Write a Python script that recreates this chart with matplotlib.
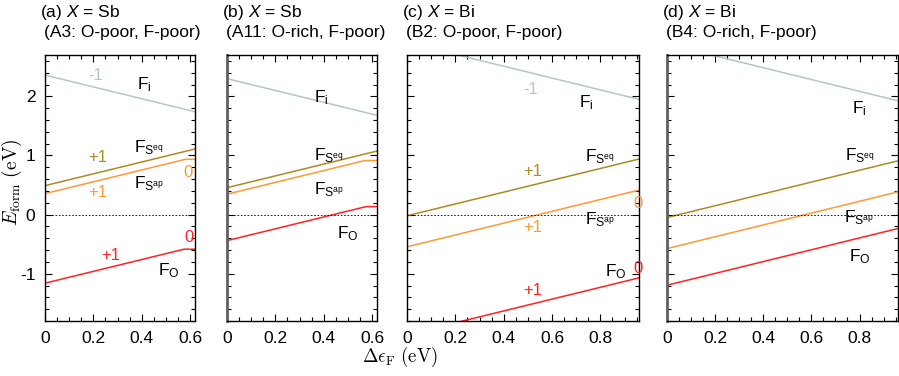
import matplotlib
matplotlib.use("Agg")
import matplotlib.pyplot as plt
from matplotlib.ticker import MultipleLocator, FuncFormatter

plt.rcParams["font.family"] = ["Liberation Sans", "DejaVu Sans"]
plt.rcParams["mathtext.fontset"] = "custom"
plt.rcParams["mathtext.rm"] = "Liberation Sans"
plt.rcParams["mathtext.it"] = "Liberation Sans:italic"
plt.rcParams["axes.unicode_minus"] = False

# ---- data (formation energy vs Fermi level, eV) ----
PANEL_TITLES = [r"(a) $X$ = Sb", r"(b) $X$ = Sb", r"(c) $X$ = Bi", r"(d) $X$ = Bi"]
PANEL_SUBTITLES = ["(A3: O-poor, F-poor)", "(A11: O-rich, F-poor)",
                   "(B2: O-poor, F-poor)", "(B4: O-rich, F-poor)"]
X_MAX = [0.62, 0.62, 0.96, 0.96]

fi_x  = [[0, 0.62], [0, 0.62], [0, 0.96], [0, 0.96]]
fi_y  = [[2.36, 1.74], [2.30, 1.68], [2.91, 1.95], [2.885, 1.925]]
seq_x = [[0, 0.62], [0, 0.62], [0, 0.96], [0, 0.96]]
seq_y = [[0.49, 1.11], [0.455, 1.075], [-0.02, 0.94], [-0.05, 0.91]]
sap_x = [[0, 0.58, 0.62], [0, 0.57, 0.62], [0, 0.96], [0, 0.96]]
sap_y = [[0.355, 0.935, 0.935], [0.345, 0.915, 0.915], [-0.545, 0.415], [-0.575, 0.385]]
fo_x  = [[0, 0.575, 0.62], [0, 0.575, 0.62], [0, 0.96], [0, 0.96]]
fo_y  = [[-1.16, -0.585, -0.585], [-0.44, 0.135, 0.135], [-2.03, -1.07], [-1.195, -0.235]]

GRAY, OLIVE, ORANGE, RED = "#b3c6ca", "#ad8a22", "#ff9a33", "#ff2222"

SEQ = r"F$_{\mathregular{S}^{\mathregular{eq}}}$"
SAP = r"F$_{\mathregular{S}^{\mathregular{ap}}}$"
FI = r"F$_{\mathregular{i}}$"
FO = r"F$_{\mathregular{O}}$"

# text labels: (text, x, y, colour)
LABELS = [
    [("-1", 0.21, 2.36, GRAY), (FI, 0.41, 2.20, "black"),
     (SEQ, 0.43, 1.13, "black"), ("+1", 0.22, 0.96, OLIVE),
     ("0", 0.59, 0.72, ORANGE), (SAP, 0.43, 0.52, "black"),
     ("+1", 0.22, 0.38, ORANGE), ("0", 0.595, -0.39, RED),
     ("+1", 0.27, -0.70, RED), (FO, 0.51, -0.94, "black")],
    [(FI, 0.39, 1.98, "black"), (SEQ, 0.42, 1.00, "black"),
     (SAP, 0.42, 0.42, "black"), (FO, 0.50, -0.33, "black")],
    [("-1", 0.51, 2.12, GRAY), (FI, 0.74, 1.90, "black"),
     ("+1", 0.52, 0.73, OLIVE), (SEQ, 0.80, 0.98, "black"),
     (SAP, 0.80, -0.08, "black"), ("+1", 0.52, -0.21, ORANGE),
     ("0", 0.955, 0.19, ORANGE), ("+1", 0.52, -1.29, RED),
     (FO, 0.865, -0.97, "black"), ("0", 0.955, -0.92, RED)],
    [(FI, 0.80, 1.80, "black"), (SEQ, 0.80, 1.00, "black"),
     (SAP, 0.80, -0.06, "black"), (FO, 0.80, -0.71, "black")],
]

W, H = 899, 376
fig = plt.figure(figsize=(W / 100, H / 100), dpi=100)

lefts = [45, 227, 407, 667]
widths = [150, 150, 232, 231]
top_px, bot_px = 55, 321

fmt = FuncFormatter(lambda v, p: f"{v:g}")

for i in range(4):
    ax = fig.add_axes([lefts[i] / W, 1 - bot_px / H, widths[i] / W, (bot_px - top_px) / H])
    ax.plot(fi_x[i], fi_y[i], color=GRAY, lw=1.1)
    ax.plot(seq_x[i], seq_y[i], color=OLIVE, lw=1.1)
    ax.plot(sap_x[i], sap_y[i], color=ORANGE, lw=1.1)
    ax.plot(fo_x[i], fo_y[i], color=RED, lw=1.1)
    ax.axhline(0, color="black", lw=0.6, ls=(0, (2, 2)))

    for txt, tx, ty, c in LABELS[i]:
        size = 12.5 if txt.startswith("F") else 12
        ax.text(tx, ty, txt, color=c, fontsize=size, ha="center", va="center")

    ax.set_xlim(0, X_MAX[i])
    ax.set_ylim(-1.8, 2.7)
    ax.xaxis.set_major_locator(MultipleLocator(0.2))
    ax.xaxis.set_minor_locator(MultipleLocator(0.05))
    ax.yaxis.set_major_locator(MultipleLocator(1))
    ax.yaxis.set_minor_locator(MultipleLocator(0.2))
    ax.xaxis.set_major_formatter(fmt)
    ax.yaxis.set_major_formatter(fmt)
    ax.tick_params(which="both", direction="in", top=True, right=True,
                   labelsize=12.5, width=0.8)
    ax.tick_params(which="major", length=5, pad=7)
    ax.tick_params(which="minor", length=3)
    for sp in ax.spines.values():
        sp.set_linewidth(1.0)
    if i > 0:
        ax.tick_params(labelleft=False)
    if i in (1, 3):
        ax.spines["left"].set_color("#606060")
        ax.spines["left"].set_linewidth(2.0)
    if i == 0:
        ax.set_ylabel(r"$E_{\rm form}\ ({\rm eV})$", fontsize=14,
                      math_fontfamily="cm", va="center")
        ax.yaxis.set_label_coords(-33 / widths[0], 0.52)

    fig.text((lefts[i] - 5) / W, 1 - 12 / H, PANEL_TITLES[i], fontsize=12.5,
             ha="left", va="center")
    fig.text((lefts[i] - 1) / W, 1 - 33 / H, PANEL_SUBTITLES[i], fontsize=12.5,
             ha="left", va="center")

fig.text(400 / W, 1 - 357 / H, r"$\Delta\epsilon_{\rm F}\ ({\rm eV})$", fontsize=13.5,
         math_fontfamily="cm", ha="center", va="center")

fig.savefig("out.png", dpi=100)
